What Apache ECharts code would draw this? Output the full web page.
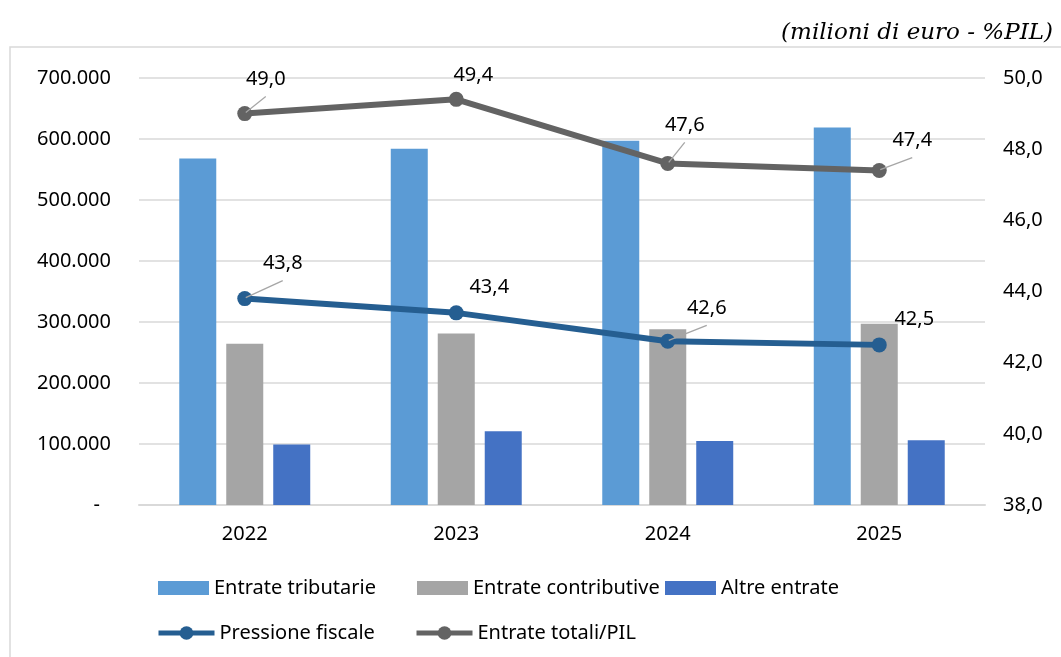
<!DOCTYPE html>
<html>
<head>
<meta charset="utf-8">
<script src="https://cdn.jsdelivr.net/npm/echarts@6/dist/echarts.min.js"></script>
<style>
html,body{margin:0;padding:0;background:#fff;}
#chart{width:1061px;height:657px;}
</style>
</head>
<body>
<div id="chart"></div>
<script>
const categories = ['2022', '2023', '2024', '2025'];
const entrateTributarie = [568000, 584000, 597000, 619000];
const entrateContributive = [264500, 281000, 288000, 297000];
const altreEntrate = [99000, 121000, 105000, 106000];
const pressioneFiscale = [43.8, 43.4, 42.6, 42.5];
const entrateTotaliPil = [49.0, 49.4, 47.6, 47.4];
const titleText = '(milioni di euro - %PIL)';

// label offsets (dx, dy) of each data label centre from its point, and leader-line flags
const pfOffsets = [[38, -35], [33, -26], [39, -33], [35, -26]];
const pfLeader = [true, false, true, false];
const etOffsets = [[21, -34], [17, -24], [17, -38], [33, -30]];
const etLeader = [true, false, true, true];

const FONT = 'Noto Sans';
const fmtThousands = v => {
  if (v === 0) return '{d|-}';
  return String(Math.round(v)).replace(/\B(?=(\d{3})+(?!\d))/g, '.');
};
const fmtDec = v => v.toFixed(1).replace('.', ',');

const chart = echarts.init(document.getElementById('chart'));

function legendItem(name, left, top, isRect) {
  const o = {
    data: [name],
    left: left, top: top, padding: 0,
    itemWidth: isRect ? 51 : 56, itemHeight: isRect ? 14 : 17, itemGap: 0,
    textStyle: {fontFamily: FONT, fontSize: 20, color: '#000'},
    selectedMode: false
  };
  if (isRect) o.icon = 'rect';
  else o.lineStyle = {width: 5};
  return o;
}

function leaderSeries(values, offsets, flags, axisIdx) {
  return {
    type: 'custom', yAxisIndex: axisIdx, silent: true, z: 10,
    data: values.map((v, i) => [i, v]),
    renderItem: (params, api) => {
      const i = params.dataIndex;
      if (!flags[i]) return null;
      const p = api.coord([api.value(0), api.value(1)]);
      const o = offsets[i];
      return {
        type: 'line',
        shape: {x1: p[0] + 1, y1: p[1] - 1, x2: p[0] + o[0], y2: p[1] + o[1] + 17},
        style: {stroke: '#a6a6a6', lineWidth: 1.3}
      };
    }
  };
}

const option = {
  animation: false,
  backgroundColor: '#fff',
  title: {
    text: titleText,
    right: 3, top: 17,
    textStyle: {fontFamily: 'DejaVu Serif', fontStyle: 'italic', fontWeight: 'normal', fontSize: 23, color: '#000'}
  },
  graphic: [{
    type: 'rect', silent: true, z: -1,
    shape: {x: 10, y: 47, width: 1200, height: 800},
    style: {fill: 'none', stroke: '#d9d9d9', lineWidth: 1.5}
  }],
  legend: [
    legendItem('Entrate tributarie', 158, 578, true),
    legendItem('Entrate contributive', 417, 578, true),
    legendItem('Altre entrate', 665, 578, true),
    legendItem('Pressione fiscale', 156, 623, false),
    legendItem('Entrate totali/PIL', 414, 623, false)
  ],
  grid: {left: 139, right: 76, top: 78, bottom: 152, containLabel: false},
  xAxis: {
    type: 'category',
    data: categories,
    axisLine: {lineStyle: {color: '#d9d9d9', width: 2}},
    axisTick: {show: false},
    axisLabel: {fontFamily: FONT, fontSize: 20, color: '#000', margin: 19}
  },
  yAxis: [{
    type: 'value', min: 0, max: 700000, interval: 100000,
    axisLine: {show: false}, axisTick: {show: false},
    splitLine: {lineStyle: {color: '#d9d9d9', width: 1.5}},
    axisLabel: {
      fontFamily: FONT, fontSize: 20, color: '#000', margin: 28,
      formatter: fmtThousands,
      rich: {d: {fontFamily: FONT, fontSize: 20, color: '#000', padding: [0, 11, 0, 0]}}
    }
  }, {
    type: 'value', min: 38, max: 50, interval: 2,
    axisLine: {show: false}, axisTick: {show: false},
    splitLine: {show: false},
    axisLabel: {fontFamily: FONT, fontSize: 20, color: '#000', margin: 18, formatter: fmtDec}
  }],
  series: [{
    name: 'Entrate tributarie', type: 'bar', data: entrateTributarie,
    barWidth: 37, barGap: '27%',
    itemStyle: {color: '#5B9BD5'}
  }, {
    name: 'Entrate contributive', type: 'bar', data: entrateContributive,
    barWidth: 37, barGap: '27%',
    itemStyle: {color: '#A5A5A5'}
  }, {
    name: 'Altre entrate', type: 'bar', data: altreEntrate,
    barWidth: 37, barGap: '27%',
    itemStyle: {color: '#4472C4'}
  }, {
    name: 'Pressione fiscale', type: 'line', yAxisIndex: 1, data: pressioneFiscale,
    symbol: 'circle', symbolSize: 15,
    lineStyle: {color: '#255E91', width: 6},
    itemStyle: {color: '#255E91'},
    label: {show: true, position: 'inside', fontFamily: FONT, fontSize: 20, color: '#000', formatter: p => fmtDec(p.value)},
    labelLayout: p => ({dx: pfOffsets[p.dataIndex][0], dy: pfOffsets[p.dataIndex][1]}),
    z: 5
  }, {
    name: 'Entrate totali/PIL', type: 'line', yAxisIndex: 1, data: entrateTotaliPil,
    symbol: 'circle', symbolSize: 15,
    lineStyle: {color: '#636363', width: 6},
    itemStyle: {color: '#636363'},
    label: {show: true, position: 'inside', fontFamily: FONT, fontSize: 20, color: '#000', formatter: p => fmtDec(p.value)},
    labelLayout: p => ({dx: etOffsets[p.dataIndex][0], dy: etOffsets[p.dataIndex][1]}),
    z: 5
  },
  leaderSeries(pressioneFiscale, pfOffsets, pfLeader, 1),
  leaderSeries(entrateTotaliPil, etOffsets, etLeader, 1)
  ]
};
chart.setOption(option);
</script>
</body>
</html>
